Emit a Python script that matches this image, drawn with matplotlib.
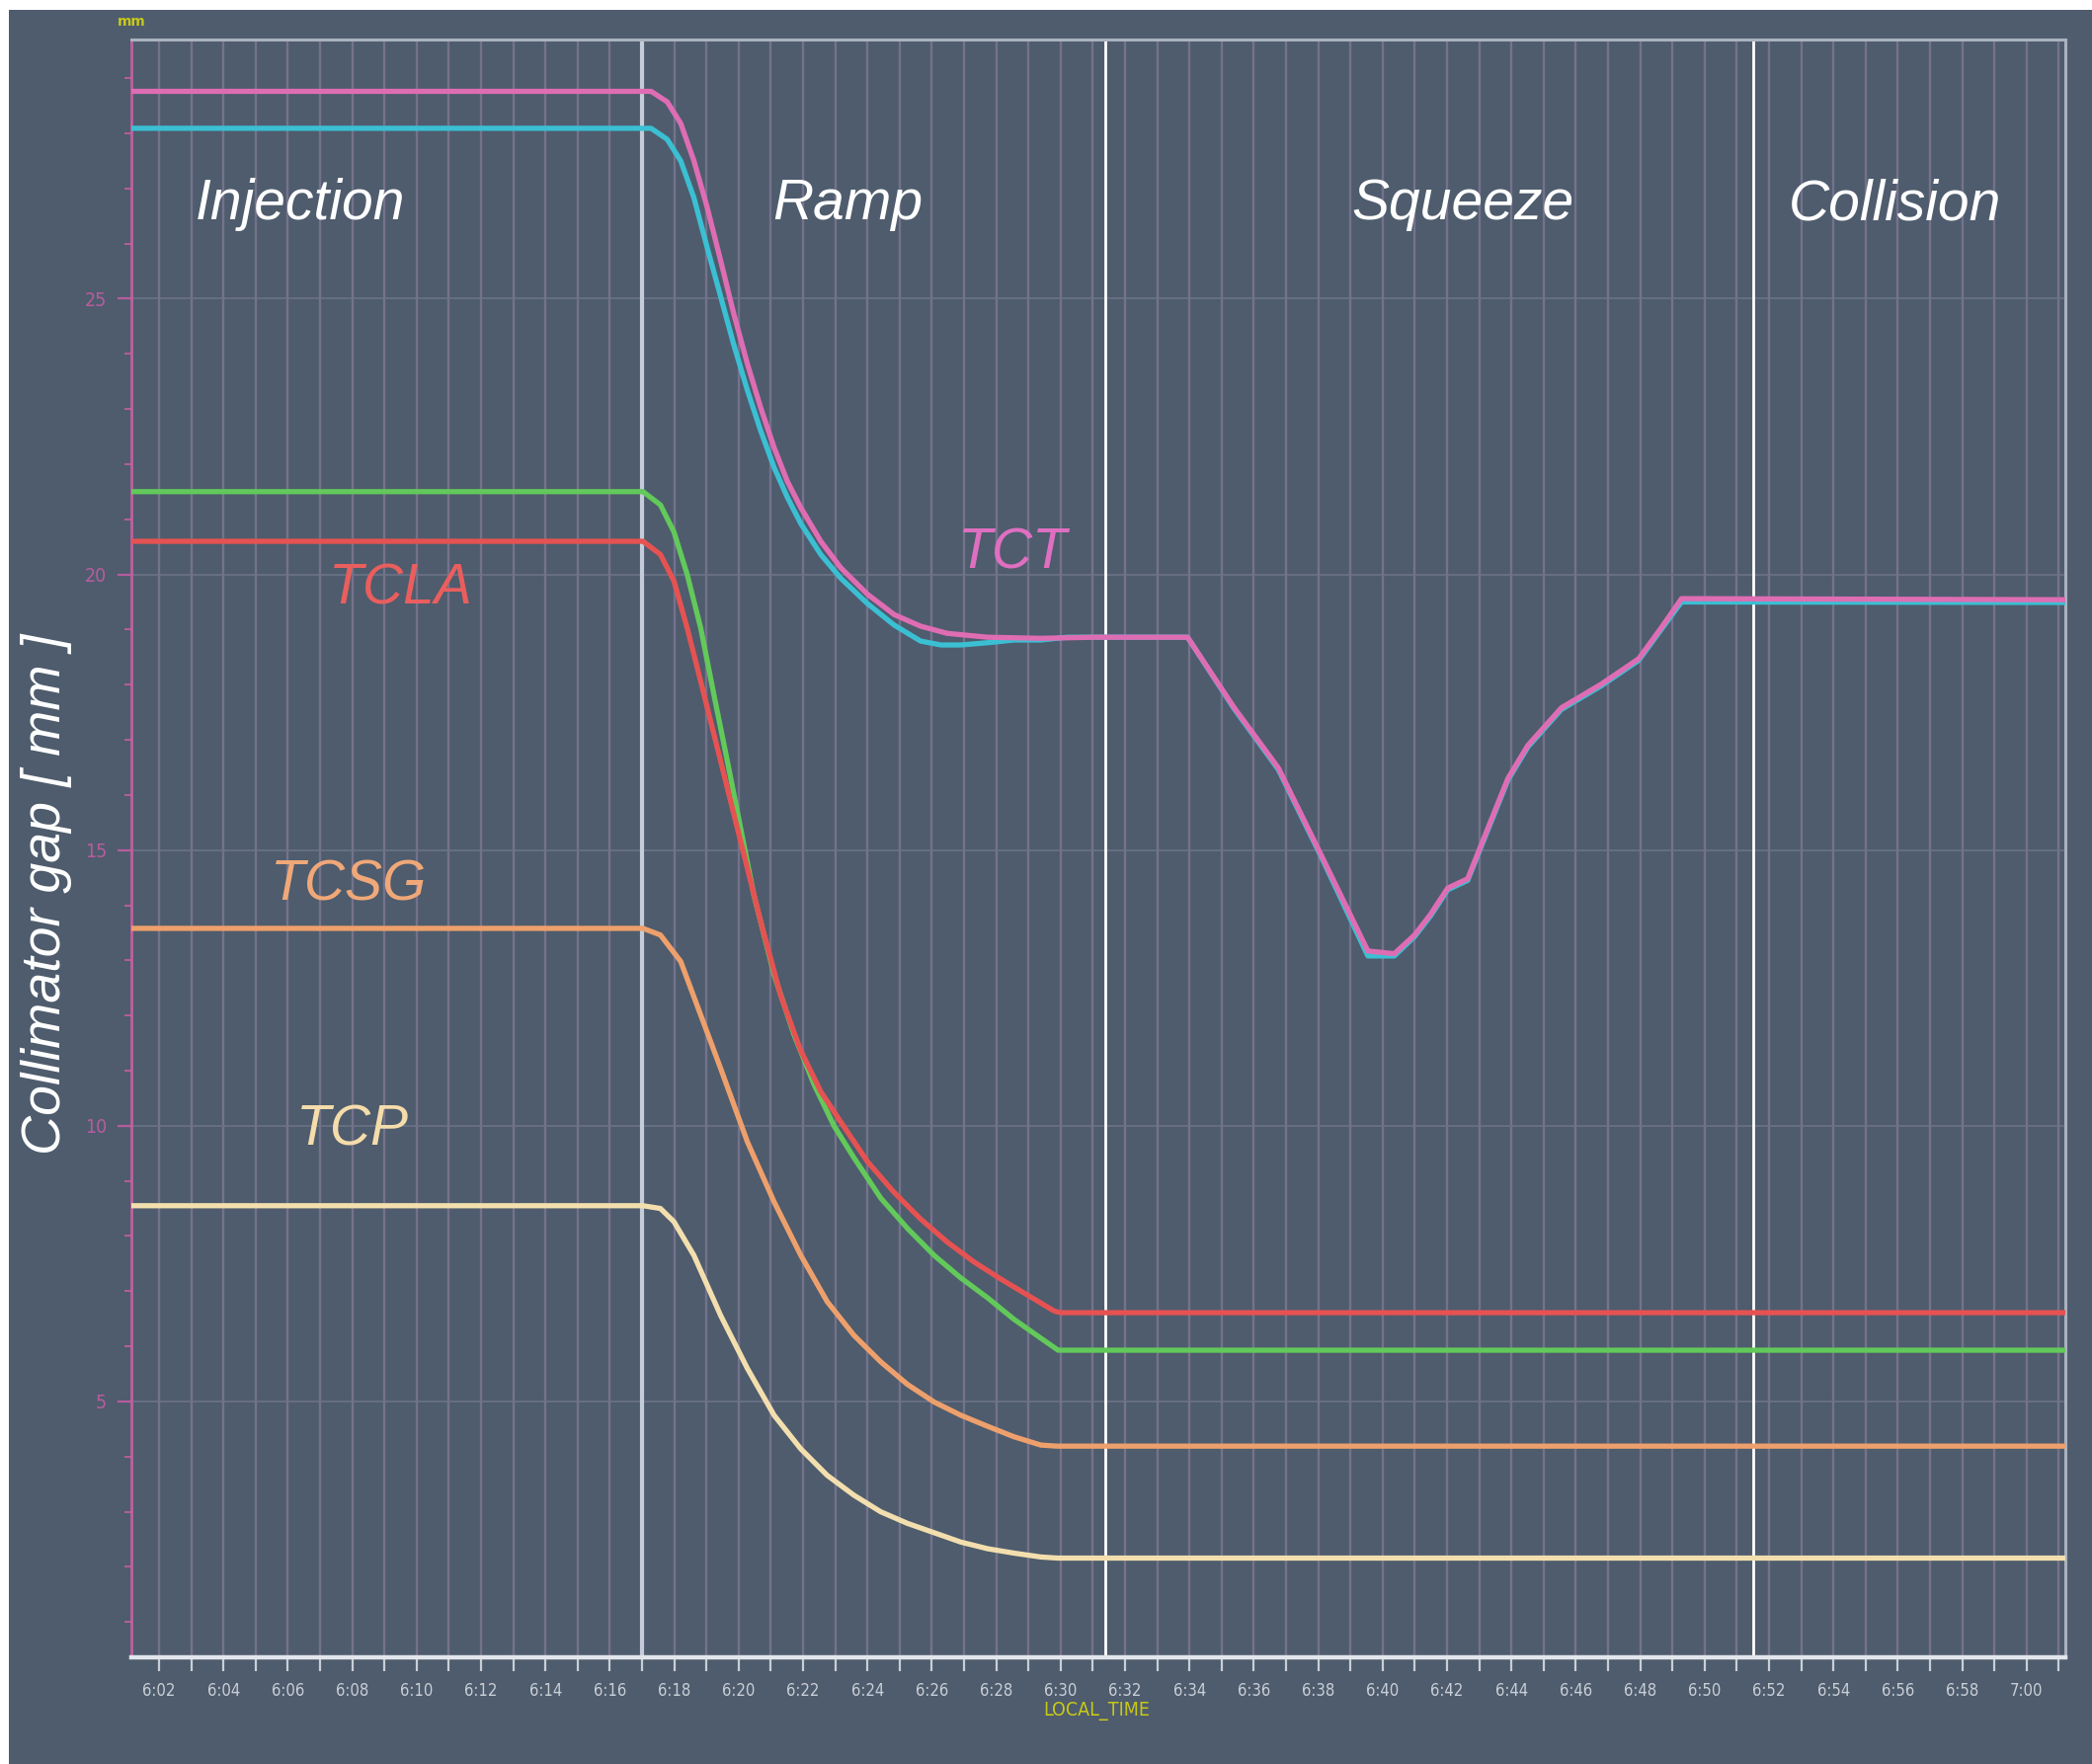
import matplotlib
matplotlib.use("Agg")
import matplotlib.pyplot as plt
from matplotlib.patches import Rectangle
from matplotlib.ticker import MultipleLocator, FuncFormatter

# ---------------- data (time in minutes after 6:00, gap in mm) ----------------
tct1_t = [1.14, 17.28, 17.78, 18.20, 18.61, 19.02, 19.44, 19.85, 20.27, 20.68, 21.10, 21.51,
          21.93, 22.55, 23.17, 24.00, 24.83, 25.65, 26.48, 27.73, 29.38, 31.04, 32.70, 33.94,
          35.39, 36.76, 38.09, 39.54, 40.36, 40.99, 41.48, 42.02, 42.64, 43.27, 43.89, 44.51,
          45.55, 46.79, 47.95, 48.65, 49.28, 61.20]
tct1_v = [28.76, 28.76, 28.57, 28.18, 27.50, 26.66, 25.69, 24.72, 23.82, 23.03, 22.30, 21.69,
          21.21, 20.60, 20.12, 19.64, 19.27, 19.06, 18.93, 18.86, 18.84, 18.86, 18.86, 18.86,
          17.58, 16.49, 14.91, 13.17, 13.12, 13.46, 13.83, 14.31, 14.48, 15.40, 16.30, 16.90,
          17.58, 18.01, 18.47, 19.03, 19.56, 19.54]

tct2_t = [1.14, 17.28, 17.78, 18.20, 18.61, 19.02, 19.44, 19.85, 20.27, 20.68, 21.10, 21.51,
          21.93, 22.55, 23.17, 24.00, 24.83, 25.65, 26.28, 26.90, 27.73, 28.55, 29.38, 30.21,
          33.94, 35.39, 36.76, 38.09, 39.54, 40.36, 40.99, 41.48, 42.02, 42.64, 43.27, 43.89,
          44.51, 45.55, 46.79, 47.95, 48.65, 49.28, 61.20]
tct2_v = [28.09, 28.09, 27.89, 27.50, 26.83, 25.93, 25.04, 24.16, 23.34, 22.61, 21.94, 21.40,
          20.92, 20.36, 19.93, 19.47, 19.08, 18.79, 18.72, 18.72, 18.76, 18.81, 18.81, 18.86,
          18.86, 17.56, 16.46, 14.88, 13.08, 13.08, 13.43, 13.80, 14.28, 14.45, 15.37, 16.27,
          16.87, 17.55, 17.98, 18.44, 19.00, 19.50, 19.49]

tcla_g_t = [1.14, 17.03, 17.57, 17.99, 18.40, 18.82, 19.23, 19.65, 20.06, 20.47, 21.10, 21.72,
            22.34, 22.96, 23.58, 24.41, 25.24, 26.07, 26.90, 27.73, 28.55, 29.38, 29.92, 61.20]
tcla_g_v = [21.50, 21.50, 21.26, 20.77, 20.00, 19.03, 17.82, 16.61, 15.40, 14.19, 12.74, 11.65,
            10.75, 10.00, 9.42, 8.69, 8.14, 7.65, 7.24, 6.88, 6.49, 6.15, 5.93, 5.93]

tcla_r_t = [1.14, 17.03, 17.57, 17.99, 18.40, 18.82, 19.44, 20.06, 20.68, 21.30, 21.93, 22.55,
            23.17, 24.00, 24.83, 25.65, 26.48, 27.31, 28.14, 28.97, 29.80, 30.00, 61.20]
tcla_r_v = [20.60, 20.60, 20.36, 19.88, 19.03, 18.06, 16.61, 15.16, 13.71, 12.37, 11.36, 10.62,
            10.07, 9.35, 8.79, 8.31, 7.89, 7.53, 7.22, 6.93, 6.64, 6.61, 6.61]

tcsg_t = [1.14, 17.03, 17.57, 18.20, 18.82, 19.44, 20.27, 21.10, 21.93, 22.75, 23.58, 24.41,
          25.24, 26.07, 26.90, 27.73, 28.55, 29.38, 29.88, 61.20]
tcsg_v = [13.58, 13.58, 13.46, 12.98, 12.01, 11.04, 9.71, 8.62, 7.65, 6.81, 6.20, 5.72,
          5.31, 4.99, 4.75, 4.55, 4.36, 4.21, 4.19, 4.19]

tcp_t = [1.14, 17.03, 17.57, 17.99, 18.61, 19.44, 20.27, 21.10, 21.93, 22.75, 23.58, 24.41,
         25.24, 26.07, 26.90, 27.73, 28.55, 29.38, 29.92, 61.20]
tcp_v = [8.55, 8.55, 8.50, 8.26, 7.65, 6.56, 5.60, 4.75, 4.14, 3.66, 3.30, 3.00,
         2.79, 2.62, 2.45, 2.33, 2.25, 2.18, 2.16, 2.16]

phase_bounds = [17.0, 31.4, 51.5]
phase_names = ["Injection", "Ramp", "Squeeze", "Collision"]
phase_x = [6.4, 23.4, 42.5, 55.9]
phase_y = 26.7

curve_labels = ["TCLA", "TCT", "TCSG", "TCP"]
curve_label_pos = [(9.5, 19.73), (28.5, 20.38), (7.9, 14.35), (8.0, 9.91)]

# ---------------- styling ----------------
BG = "#4e5c6d"
W, H = 2118, 1786
fig = plt.figure(figsize=(W / 100, H / 100), dpi=100, facecolor="white")
fig.patches.append(Rectangle((9 / W, 0), 1 - 9 / W, 1 - 10 / H, transform=fig.transFigure,
                             facecolor=BG, edgecolor="none", zorder=-10))

ax = fig.add_axes([133 / W, (H - 1678) / H, (2091 - 133) / W, (1678 - 40) / H])
ax.set_facecolor(BG)
ax.set_xlim(1.14, 61.2)
ax.set_ylim(0.36, 29.7)

# grid
ax.xaxis.set_major_locator(MultipleLocator(2))
ax.xaxis.set_minor_locator(MultipleLocator(1))
ax.yaxis.set_major_locator(MultipleLocator(5))
ax.yaxis.set_minor_locator(MultipleLocator(1))
ax.grid(which="both", axis="x", color="#7a7590", lw=1.7, alpha=0.9, zorder=0)
ax.grid(which="major", axis="y", color="#6f7488", lw=1.4, alpha=0.8, zorder=0)
ax.set_axisbelow(True)

def fmt(m, pos):
    m = int(round(m))
    return f"{6 + m // 60}:{m % 60:02d}"
ax.xaxis.set_major_formatter(FuncFormatter(fmt))

ax.tick_params(axis="x", which="both", direction="out", length=10, width=1.6,
               colors="#c9ced6", labelsize=12, pad=8)
ax.tick_params(axis="y", which="major", direction="out", length=10, width=1.6,
               colors="#b85c9e", labelsize=14, pad=8)
ax.tick_params(axis="y", which="minor", direction="out", length=5, width=1.4,
               colors="#b85c9e")
for lab in ax.get_xticklabels() + ax.get_yticklabels():
    lab.set_fontstretch("condensed")

for s in ["top", "right"]:
    ax.spines[s].set_color("#aab2bf")
    ax.spines[s].set_linewidth(2.2)
ax.spines["bottom"].set_color("#e2e6ec")
ax.spines["bottom"].set_linewidth(3.2)
ax.spines["left"].set_color("#c0609f")
ax.spines["left"].set_linewidth(2.0)

# phase boundaries
ax.axvline(phase_bounds[0], color="#c3ccd8", lw=3.0, zorder=1)
ax.axvline(phase_bounds[1], color="white", lw=2.0, zorder=1)
ax.axvline(phase_bounds[2], color="white", lw=2.0, zorder=1)

lw = 3.8
kw = dict(lw=lw, solid_joinstyle="round", solid_capstyle="round")
ax.plot(tcp_t, tcp_v, color="#f3dfae", zorder=3, **kw)
ax.plot(tcsg_t, tcsg_v, color="#eea06c", zorder=3, **kw)
ax.plot(tcla_g_t, tcla_g_v, color="#62c95a", zorder=3, **kw)
ax.plot(tcla_r_t, tcla_r_v, color="#e65252", zorder=4, **kw)
ax.plot(tct2_t, tct2_v, color="#3bbfd3", zorder=5, **kw)
ax.plot(tct1_t, tct1_v, color="#df6db3", zorder=6, **kw)

tfont = ["Liberation Sans", "DejaVu Sans"]
for name, x in zip(phase_names, phase_x):
    ax.text(x, phase_y, name, color="white", fontsize=41, style="italic",
            family=tfont, ha="center", va="center", zorder=7)

label_colors = ["#ea5e5e", "#df6fc0", "#f0a878", "#f5dcab"]
for name, (x, y), c in zip(curve_labels, curve_label_pos, label_colors):
    ax.text(x, y, name, color=c, fontsize=41, style="italic", family=tfont,
            ha="center", va="center", zorder=7)

fig.text(47 / W, 1 - 905 / H, "Collimator gap [ mm ]", rotation=90, color="white",
         fontsize=40, style="italic", family=tfont, ha="center", va="center")
fig.text(133 / W, 1 - 22 / H, "mm", color="#c8c818", fontsize=10, ha="center", va="center",
         fontweight="bold")
fig.text(1110 / W, 1 - 1733 / H, "LOCAL_TIME", color="#c8c818", fontsize=14,
         ha="center", va="center", fontstretch="condensed")

fig.savefig("out.png", dpi=100, facecolor="white")
